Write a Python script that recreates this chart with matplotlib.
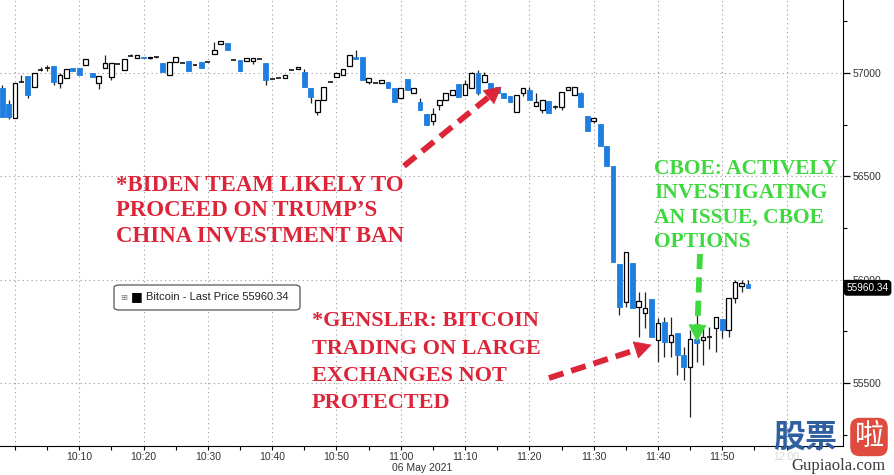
import numpy as np
import pandas as pd
import matplotlib
matplotlib.use("Agg")
import matplotlib.pyplot as plt
import matplotlib.dates as mdates
import matplotlib.transforms as mtransforms
from matplotlib.lines import Line2D
from matplotlib.patches import Polygon, FancyBboxPatch
from matplotlib.ticker import MultipleLocator

# ---------------- data ----------------
start_time = "2021-05-06 09:58"
opens = [56927, 56850, 56782, 56956, 56985, 56932, 57012, 57024, 57034, 56952,
         56976, 57024, 57024, 57039, 57000, 56952, 57024, 56981, 57043, 57014,
         57082, 57072, 57075, 57070, 57077, 57048, 56990, 57053, 57048, 57058,
         57041, 57053, 57053, 57092, 57140, 57145, 57063, 57063, 57058, 57058,
         57068, 57048, 56971, 56976, 56976, 57014, 57019, 57005, 56927, 56811,
         56869, 56956, 56981, 56990, 57034, 57077, 57077, 56956, 56952, 56952,
         56956, 56927, 56879, 56971, 56903, 56860, 56801, 56768, 56845, 56869,
         56894, 56947, 56894, 56927, 57000, 56956, 56952, 56932, 56903, 56889,
         56811, 56903, 56918, 56840, 56821, 56865, 56836, 56836, 56918, 56894,
         56903, 56792, 56768, 56753, 56647, 56550, 56076, 55892, 56080, 55868,
         55839, 55906, 55708, 55795, 55698, 55742, 55635, 55577, 55713, 55708,
         55722, 55766, 55810, 55756, 55911, 55969, 55979]
highs = [56942, 56869, 56952, 56990, 56985, 57000, 57029, 57039, 57036, 57000,
         57019, 57024, 57024, 57068, 57000, 56985, 57087, 57048, 57045, 57068,
         57092, 57087, 57075, 57077, 57077, 57048, 57053, 57077, 57048, 57058,
         57041, 57053, 57053, 57150, 57155, 57145, 57063, 57063, 57072, 57072,
         57068, 57048, 56971, 56976, 56990, 57014, 57029, 57019, 56927, 56869,
         56932, 56956, 57000, 57019, 57087, 57111, 57077, 56976, 56952, 56966,
         56956, 56927, 56927, 56971, 56927, 56879, 56801, 56831, 56869, 56903,
         56918, 56947, 56966, 57005, 57014, 57005, 56952, 56932, 56903, 56889,
         56894, 56927, 56932, 56903, 56869, 56865, 56845, 56908, 56932, 56932,
         56908, 56792, 56782, 56753, 56647, 56550, 56076, 56134, 56080, 55940,
         55940, 55906, 55814, 55819, 55819, 55742, 55674, 55756, 55843, 55771,
         55771, 55819, 55810, 55911, 55998, 55998, 55998]
lows = [56787, 56777, 56782, 56954, 56879, 56932, 57010, 57010, 56942, 56927,
        56976, 57010, 56990, 57039, 56981, 56923, 57024, 56966, 57041, 57014,
        57080, 57072, 57070, 57068, 57074, 57005, 56990, 57053, 57046, 57010,
        57037, 57024, 57051, 57092, 57140, 57111, 57061, 57010, 57058, 57043,
        57066, 56942, 56969, 56974, 56976, 57012, 57019, 56932, 56855, 56797,
        56869, 56954, 56981, 56990, 57034, 57068, 56966, 56947, 56950, 56952,
        56927, 56860, 56879, 56918, 56903, 56821, 56748, 56748, 56821, 56869,
        56894, 56884, 56894, 56927, 56894, 56956, 56908, 56903, 56879, 56860,
        56811, 56889, 56869, 56840, 56806, 56806, 56826, 56821, 56918, 56894,
        56836, 56719, 56758, 56647, 56550, 56085, 55829, 55868, 55863, 55722,
        55766, 55722, 55601, 55625, 55625, 55538, 55514, 55335, 55601, 55587,
        55665, 55650, 55718, 55722, 55887, 55940, 55960]
closes = [56787, 56787, 56952, 56958, 56894, 57000, 57014, 57022, 56956, 56990,
          57019, 57010, 56990, 57068, 56981, 56985, 57048, 57048, 57043, 57068,
          57084, 57087, 57070, 57075, 57074, 57005, 57053, 57077, 57046, 57010,
          57037, 57024, 57051, 57111, 57155, 57111, 57061, 57010, 57072, 57072,
          57066, 56966, 56969, 56974, 56990, 57012, 57029, 56932, 56884, 56869,
          56932, 56954, 57000, 57019, 57087, 57068, 56966, 56976, 56950, 56966,
          56927, 56860, 56927, 56918, 56927, 56821, 56748, 56801, 56869, 56903,
          56918, 56884, 56947, 57000, 56903, 56990, 56908, 56903, 56879, 56860,
          56894, 56927, 56869, 56860, 56869, 56806, 56838, 56908, 56932, 56932,
          56836, 56719, 56782, 56647, 56550, 56085, 55868, 56134, 55863, 55897,
          55863, 55722, 55790, 55698, 55732, 55635, 55577, 55713, 55694, 55722,
          55724, 55819, 55756, 55911, 55989, 55984, 55960.34]
last_price = 55960.34
series_name = "Bitcoin - Last Price"
x_tick_labels = ["10:00", "10:10", "10:20", "10:30", "10:40", "10:50", "11:00",
                 "11:10", "11:20", "11:30", "11:40", "11:50", "12:00"]
y_ticks = [55500, 56000, 56500, 57000]
date_label = "06 May 2021"

biden_text = "*BIDEN TEAM LIKELY TO\nPROCEED ON TRUMP\u2019S\nCHINA INVESTMENT BAN"
gensler_text = "*GENSLER: BITCOIN\nTRADING ON LARGE\nEXCHANGES NOT\nPROTECTED"
cboe_text = "CBOE: ACTIVELY\nINVESTIGATING\nAN ISSUE, CBOE\nOPTIONS"

# ---------------- figure ----------------
W, H = 895, 475
fig = plt.figure(figsize=(W / 100, H / 100), dpi=100)
ax = fig.add_axes([0, 29 / H, 843 / W, 446 / H])

def px(x, y):
    return (x / W, 1 - y / H)

times = pd.date_range(start_time, periods=len(opens), freq="min")
xn = mdates.date2num(times)
minute = 1.0 / 1440.0
BLUE = "#1f7fe0"

for x, o, h, l, c in zip(xn, opens, highs, lows, closes):
    ax.vlines(x, l, h, color="#222222", lw=0.9, zorder=2)
    if abs(c - o) < 5:
        ax.hlines((o + c) / 2, x - 0.38 * minute, x + 0.38 * minute,
                  color="#111111", lw=1.2, zorder=3)
    elif c > o:
        ax.bar(x, c - o, width=0.72 * minute, bottom=o, facecolor="white",
               edgecolor="black", lw=0.9, zorder=3)
    else:
        ax.bar(x, o - c, width=0.74 * minute, bottom=c, facecolor=BLUE,
               edgecolor=BLUE, lw=0.6, zorder=3)

day = "2021-05-06 "
tick_pos = mdates.date2num(pd.to_datetime([day + t for t in x_tick_labels]))
x0 = mdates.date2num(pd.Timestamp(day + "10:00"))
ax.set_xlim(x0 - 2.33 * minute, x0 + 128.77 * minute)
ax.set_ylim(55195, 57353)

ax.set_xticks(tick_pos)
ax.set_xticklabels([""] + x_tick_labels[1:])
ax.xaxis.set_minor_locator(mdates.MinuteLocator(byminute=range(5, 60, 10)))
ax.tick_params(axis="x", which="both", direction="out", length=3, width=0.8,
               colors="black", labelsize=7.5, labelcolor="#333333", pad=1)
for lbl in ax.get_xticklabels():
    lbl.set_fontfamily("Liberation Sans")
ax.get_xticklabels()[-1].set_color("#d8d8d8")

ax.yaxis.tick_right()
ax.set_yticks(y_ticks)
ax.set_yticklabels([str(v) for v in y_ticks])
ax.yaxis.set_minor_locator(MultipleLocator(250))
ax.tick_params(axis="y", which="major", direction="out", length=5, width=0.9,
               labelsize=7.5, labelcolor="#333333", pad=2)
ax.tick_params(axis="y", which="minor", direction="out", length=3, width=0.8)
for lbl in ax.get_yticklabels():
    lbl.set_fontfamily("Liberation Sans")

ax.grid(True, which="major", color="#9a9a9a", lw=0.8, ls=(0, (1, 3)))
for s in ["left", "top"]:
    ax.spines[s].set_visible(False)
ax.spines["right"].set_color("black")
ax.spines["bottom"].set_color("black")

# last price tag
trans = mtransforms.blended_transform_factory(ax.transAxes, ax.transData)
ax.text(1.004, last_price, f"{last_price:.2f}", transform=trans, ha="left",
        va="center", color="white", fontsize=7.2, family="Liberation Sans",
        clip_on=False, zorder=10,
        bbox=dict(boxstyle="round,pad=0.22,rounding_size=0.3", fc="black",
                  ec="black"))

# legend box
fig.text(*px(120, 297), "\u229e", fontsize=6, color="#777777", ha="left",
         va="center", family="DejaVu Sans", zorder=11)
fig.text(*px(131, 297), "\u25a0", fontsize=9, color="black", ha="left",
         va="center", family="DejaVu Sans", zorder=11)
fig.text(*px(146, 297), f"{series_name} {last_price:.2f}", fontsize=8,
         color="#222222", ha="left", va="center", family="Liberation Sans",
         zorder=11)
bx0, by0 = px(114, 310)
bx1, by1 = px(300, 285)
fig.patches.append(FancyBboxPatch((bx0, by0), bx1 - bx0, by1 - by0,
                                  boxstyle="round,pad=0,rounding_size=0.006",
                                  transform=fig.transFigure, fc="white",
                                  ec="#555555", lw=0.9, zorder=10))

# date label
fig.text(*px(422, 468), date_label, fontsize=7.5, color="#333333", ha="center",
         va="center", family="Liberation Sans")

# annotations
RED = "#dc2538"
GREEN = "#3fd83f"
fig.text(*px(116, 175), biden_text, fontsize=16.5, fontweight="bold",
         family="Liberation Serif", color=RED, ha="left", va="top",
         linespacing=1.28, zorder=12)
fig.text(*px(312, 311), gensler_text, fontsize=16, fontweight="bold",
         family="Liberation Serif", color=RED, ha="left", va="top",
         linespacing=1.5, zorder=12)
fig.text(*px(654, 159), cboe_text, fontsize=15.5, fontweight="bold",
         family="Liberation Serif", color=GREEN, ha="left", va="top",
         linespacing=1.28, zorder=12)


def dashed_arrow(xa, ya, xb, yb, color, lw=4.2, head_len=16, head_w=8.5):
    d = np.array([xb - xa, yb - ya], dtype=float)
    L = np.hypot(*d)
    u = d / L
    n = np.array([-u[1], u[0]])
    base = np.array([xb, yb]) - u * head_len
    line_end = base + u * 2
    fig.add_artist(Line2D([xa / W, line_end[0] / W],
                          [1 - ya / H, 1 - line_end[1] / H],
                          transform=fig.transFigure, color=color, lw=lw,
                          ls=(0, (2.6, 1.4)), solid_capstyle="butt",
                          zorder=12))
    tip = np.array([xb, yb])
    p1 = base + n * head_w
    p2 = base - n * head_w
    pts = [(p[0] / W, 1 - p[1] / H) for p in (tip, p1, p2)]
    fig.add_artist(Polygon(pts, closed=True, transform=fig.transFigure,
                           fc=color, ec=color, lw=0.5, zorder=12))


dashed_arrow(404, 166, 501, 87, RED)
dashed_arrow(549, 378, 651, 345, RED)
dashed_arrow(700, 254, 697, 341, GREEN)

# watermark
fig.text(*px(773, 438), "\u80a1\u7968", fontsize=23, fontweight="bold",
         color="#2f5f9f", ha="left", va="center",
         family=["Noto Sans CJK SC", "DejaVu Sans"], zorder=13)
fig.text(*px(869, 437), "\u5566", fontsize=21, color="white", ha="center",
         va="center", family=["Noto Sans CJK SC", "DejaVu Sans"], zorder=13,
         bbox=dict(boxstyle="round,pad=0.12,rounding_size=0.3", fc="#df4b3e",
                   ec="#df4b3e"))
fig.text(*px(838, 466), "Gupiaola.com", fontsize=12, color="#3a3a3a",
         ha="center", va="center", family="Liberation Serif", zorder=13)

fig.savefig("out.png", dpi=100)
